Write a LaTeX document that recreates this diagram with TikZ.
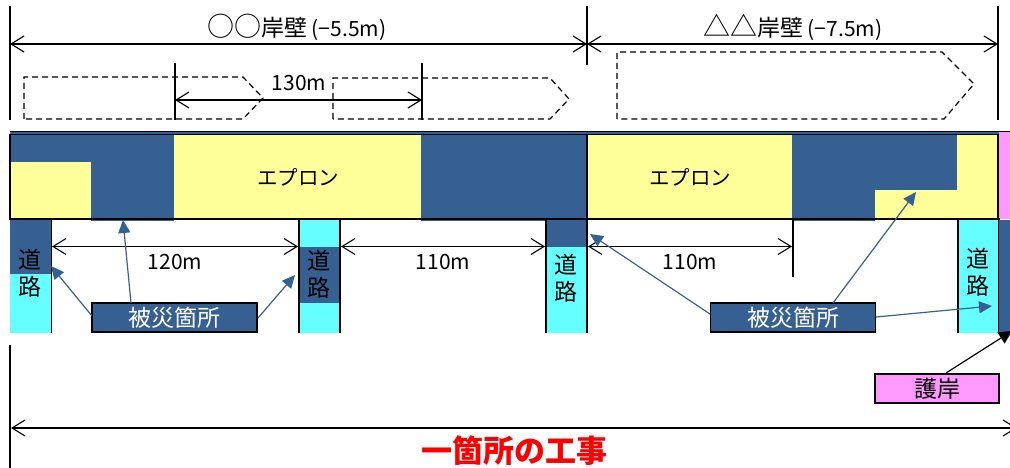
\documentclass[tikz,border=0pt]{standalone}
\usepackage{fontspec}
\setmainfont{Noto Sans CJK JP}
\usetikzlibrary{arrows.meta}
\definecolor{dmg}{HTML}{366092}
\definecolor{apron}{HTML}{FFFF99}
\definecolor{road}{HTML}{66FFFF}
\definecolor{wall}{HTML}{FF99FF}
\newcommand{\fs}[1]{\fontsize{#1}{#1}\selectfont}
\newcommand{\bigc}[1]{{\fontsize{23}{23}\selectfont #1}}
\tikzset{
  x=1pt,y=-1pt,
  bar/.style={line width=1.6pt,black},
  dim/.style={line width=1.1pt,black,{Straight Barb[length=13pt,width=16pt,line width=1.1pt]}-{Straight Barb[length=13pt,width=16pt,line width=1.1pt]}},
  ship/.style={line width=1.2pt,black,dash pattern=on 6pt off 4pt},
  lab/.style={inner sep=0pt,text=black,font=\fs{21}},
  apr/.style={inner sep=0pt,text=black,font=\fs{20.5}},
  roadlab/.style={inner sep=0pt,text=black,align=center,font=\fontsize{23}{27}\selectfont},
  tagbox/.style={draw=black,line width=1.6pt,fill=dmg,text=white,inner sep=0pt,minimum width=165pt,minimum height=29pt,font=\fs{23}},
  pointer/.style={draw=dmg,line width=1.2pt,-{Triangle[length=13pt,width=12pt,fill=dmg]}},
}
\begin{document}
\begin{tikzpicture}
\useasboundingbox (0,0) rectangle (1010,468);
\clip (0,0) rectangle (1010,468);
% apron band
\fill[apron] (10,134) rectangle (999,220);
\fill[dmg] (10,131) rectangle (999,134);
\fill[dmg] (10,134) rectangle (174,162);
\fill[dmg] (91,162) rectangle (174,221);
\fill[dmg] (421,134) rectangle (587,221);
\fill[dmg] (792,134) rectangle (957,190);
\fill[dmg] (792,190) rectangle (875,221);
\fill[wall] (999,131) rectangle (1010,219);
% roads
\fill[dmg] (10,220) rectangle (51,274);
\fill[road] (10,274) rectangle (51,333);
\fill[road] (299,220) rectangle (340,333);
\fill[dmg] (299,247) rectangle (340,303);
\fill[road] (546,220) rectangle (587,333);
\fill[dmg] (546,220) rectangle (587,247);
\fill[road] (958,220) rectangle (998,333);
\fill[dmg] (998,220) rectangle (1010,332);
% structural lines
\draw[bar] (10,131.5) -- (1010,131.5);
\draw[bar] (10,134.5) -- (998,134.5);
\draw[bar] (10,219) -- (1000,219);
\draw[bar] (10,134) -- (10,220);
\draw[bar] (587,134) -- (587,220);
\draw[bar] (998,134) -- (998,220);
\draw[bar] (51.5,219) -- (51.5,333);
\draw[bar] (299,219) -- (299,333);
\draw[bar] (340,219) -- (340,333);
\draw[bar] (546,219) -- (546,333);
\draw[bar] (587,219) -- (587,333);
\draw[bar] (958,219) -- (958,333);
\draw[bar] (998.5,219) -- (998.5,332);
\draw[bar] (793,219) -- (793,277);
% extension lines
\coordinate (t1) at (10,44);
\coordinate (t2) at (587,44);
\coordinate (t3) at (998,44);
\coordinate (m1) at (175,100);
\coordinate (m2) at (422,100);
\coordinate (d1) at (52,246.5);
\coordinate (d2) at (298,246.5);
\coordinate (d3) at (341,246.5);
\coordinate (d4) at (545,246.5);
\coordinate (d5) at (588,246.5);
\coordinate (d6) at (792,246.5);
\coordinate (b1) at (11,428);
\coordinate (b2) at (1017,428);
\draw[bar] (10,6) -- (10,120);
\draw[bar] (587,6) -- (587,65);
\draw[bar] (998,6) -- (998,120);
\draw[bar] (175,63) -- (175,120);
\draw[bar] (422,63) -- (422,120);
\draw[bar] (10,345) -- (10,468);
% ship outlines
\draw[ship] (24,119) -- (24,77) -- (243,77) -- (263,98) -- (243,119) -- cycle;
\draw[ship] (333,119) -- (333,78) -- (550,78) -- (569,99) -- (550,119) -- cycle;
\draw[ship] (617,119) -- (617,52) -- (942,52) -- (974,84) -- (944,119) -- cycle;
% dimensions
\draw[dim] (t1) -- (t2);
\draw[dim] (t2) -- (t3);
\draw[dim] (m1) -- (m2);
\draw[dim] (d1) -- (d2);
\draw[dim] (d3) -- (d4);
\draw[dim] (d5) -- (d6);
\draw[dim] (b1) -- (b2);
% labels
\node[lab] (quay1) at (297,27) {\bigc{{\fontsize{27}{27}\selectfont ○○}岸壁}\hspace{4pt}(−5.5m)};
\node[lab] (quay2) at (793,27) {\bigc{{\fontsize{27}{27}\selectfont △△}岸壁}\hspace{4pt}(−7.5m)};
\node[lab] (len130) at (299,83) {130m};
\node[lab] (len120) at (175,262) {120m};
\node[lab] (len110a) at (443,262) {110m};
\node[lab] (len110b) at (690,262) {110m};
\node[apr] (apron1) at (298,177) {エプロン};
\node[apr] (apron2) at (690,177) {エプロン};
\node[roadlab] (road1) at (30,273) {道\\路};
\node[roadlab] (road2) at (319,274) {道\\路};
\node[roadlab] (road3) at (566,278) {道\\路};
\node[roadlab] (road4) at (978,272) {道\\路};
\node[tagbox] (tagL) at (174.5,317.5) {被災箇所};
\node[tagbox] (tagR) at (793,317.5) {被災箇所};
\node[draw=black,line width=1.6pt,fill=wall,inner sep=0pt,minimum width=124pt,minimum height=29pt,font=\fs{23}] (revet) at (937,388.5) {護岸};
\node[inner sep=0pt,text={rgb,255:red,255;green,0;blue,0},font=\fs{31}\bfseries] (total) at (514,451) {一箇所の工事};
% pointers
\coordinate (pa) at (51,266);
\coordinate (pb) at (123,220);
\coordinate (pc) at (295,275);
\coordinate (pd) at (590,234);
\coordinate (pe) at (916,192);
\coordinate (pf) at (992,306);
\coordinate (pg) at (1012,331);
\coordinate (qa) at (92,316);
\coordinate (qb) at (131,303);
\coordinate (qc) at (258,318);
\coordinate (qd) at (710,314);
\coordinate (qe) at (833,303);
\coordinate (qf) at (876,317);
\coordinate (qg) at (946,373);
\draw[pointer] (qa) -- (pa);
\draw[pointer] (qb) -- (pb);
\draw[pointer] (qc) -- (pc);
\draw[pointer] (qd) -- (pd);
\draw[pointer] (qe) -- (pe);
\draw[pointer] (qf) -- (pf);
\draw[line width=1.2pt,black,-{Triangle[length=13pt,width=13pt]}] (qg) -- (pg);
\end{tikzpicture}
\end{document}
